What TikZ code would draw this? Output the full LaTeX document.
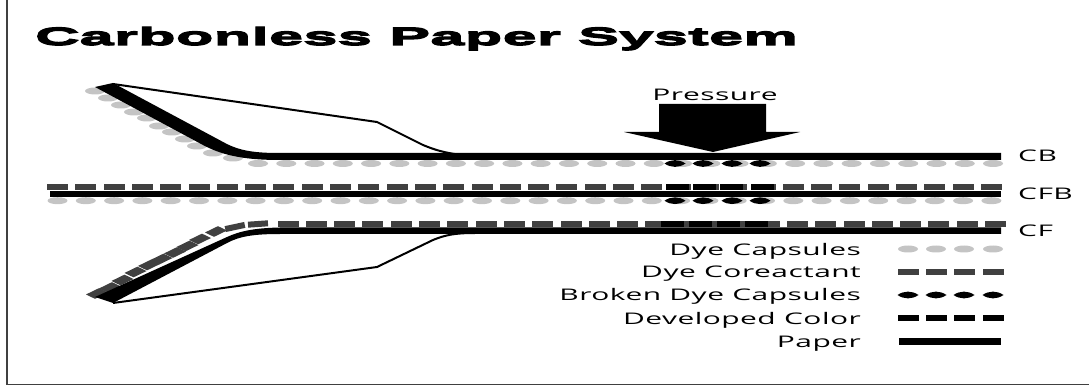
\documentclass[tikz,border=0pt]{standalone}
\usepackage{fontspec}
\usepackage{xcolor}
\usetikzlibrary{shapes.geometric, positioning}
\newfontfamily\labelfont[FakeStretch=1.87,LetterSpace=3]{Open Sans}
\newfontfamily\titlefont[FakeStretch=2.44,FakeBold=5,LetterSpace=2]{Liberation Sans Bold}
\definecolor{capgray}{HTML}{C4C4C4}
\definecolor{coregray}{HTML}{404040}

\begin{document}
\begin{tikzpicture}[
    x=1pt, y=-1pt,
    every node/.style={font=\labelfont\fontsize{16}{18}\selectfont, inner sep=0pt},
    capsule/.style={
        ellipse,
        minimum width=20pt,
        minimum height=7pt,
        fill=capgray
    },
    coreactant/.style={
        rectangle,
        minimum width=21pt,
        minimum height=6pt,
        fill=coregray
    },
    developed/.style={
        rectangle,
        minimum width=23pt,
        minimum height=6pt,
        fill=black
    },
    slanted/.style={
        rectangle,
        minimum width=20pt,
        minimum height=6pt,
        fill=coregray
    },
    slantcore/.pic={
        \fill[coregray] (-11,0.95) -- (2,-5.35) -- (11,-0.95) -- (-2,5.35) -- cycle;
    },
    broken/.pic={
        \fill[black] (-10.5,0) .. controls (-4,-4.5) and (4,-4.5) .. (10.5,0)
            .. controls (4,4.5) and (-4,4.5) .. (-10.5,0);
    },
    legendtext/.style={anchor=base east},
    sheetname/.style={anchor=base west},
    thinline/.style={line width=2pt, black}
]
\useasboundingbox (0,0) rectangle (1089,387);

\draw[line width=1.2pt, black!75] (7,0) -- (7,384.5) -- (1089,384.5);

\node (title) [anchor=base west, font=\titlefont\fontsize{25}{30}\selectfont] at (35,45) {Carbonless Paper System};

% CB sheet
\foreach \px/\py [count=\i] in {95/91,108/98,121/105,134/112,147/118,159/126,172/132,185/139,197/146,213/153,233/158}
    \node (capA\i) [capsule] at (\px,\py) {};
\foreach \i in {0,...,26}
    \node (capB\i) [capsule] at (258+28.27*\i,163.5) {};
\draw[thinline] (113,84) -- (377,122) -- (423,145) .. controls (435,150) and (445,153) .. (462,155);
\fill[black] (95,87) -- (113,83) -- (225,143) .. controls (240,151) and (255,153) .. (280,153)
    -- (1001,153) -- (1001,160) -- (280,160) .. controls (240,160) and (220,154) .. (203,145) -- cycle;
\foreach \px in {675,703,732,760}
    \pic at (\px,163.5) {broken};

% CFB sheet
\foreach \i in {0,...,33} {
    \node (coreB\i) [coreactant] at (57.5+28.3*\i,187.5) {};
    \node (capC\i) [capsule] at (57.5+28.3*\i,200.7) {};
}
\foreach \px in {677,704,731,762}
    \node (devB\px) [developed] at (\px,187.5) {};
\fill[black] (50,191) rectangle (1001,197);
\foreach \px in {675,703,732,760}
    \pic at (\px,200.7) {broken};

% CF sheet
\foreach \px/\py in {97/293.5,110/287.5,122.5/280,135.5/272,149/265,161.5/259,175/252.5,187.5/246,200/239,216/231.5}
    \pic at (\px,\py) {slantcore};
\node (coreS1) [slanted, rotate=12] at (235,227) {};
\node (coreS2) [slanted, rotate=4] at (258,224) {};
\foreach \i in {0,...,25}
    \node (coreC\i) [coreactant] at (288+28.3*\i,224) {};
\foreach \px in {672,700,728,756}
    \node (devC\px) [developed] at (\px,224) {};
\draw[thinline] (113,303) -- (377,267) -- (433,240) .. controls (445,235) and (455,233) .. (475,233);
\fill[black] (95,297) -- (113,303) -- (227,243) .. controls (240,236) and (255,234) .. (280,234)
    -- (1001,234) -- (1001,227.5) -- (280,227.5) .. controls (255,228) and (240,231) .. (227,237) -- cycle;

% pressure arrow
\fill[black] (659,104) -- (766,104) -- (766,132) -- (800,132) -- (713,152) -- (624,132) -- (659,132) -- cycle;
\node (pressure) [anchor=base] at (715,100.7) {Pressure};

\node (cb) [sheetname] at (1018,161.7) {CB};
\node (cfb) [sheetname] at (1018,199.3) {CFB};
\node (cf) [sheetname] at (1018,236.7) {CF};

% legend
\node (lcap) [legendtext] at (861,255) {Dye Capsules};
\node (lcore) [legendtext] at (861,278) {Dye Coreactant};
\node (lbroken) [legendtext] at (861,301) {Broken Dye Capsules};
\node (ldev) [legendtext] at (861,324) {Developed Color};
\node (lpaper) [legendtext] at (861,347) {Paper};

\foreach \px in {908,936,964,993} {
    \node (keycap\px) [capsule] at (\px,249) {};
    \node (keycore\px) [coreactant] at (\px,272) {};
    \pic at (\px,295) {broken};
    \node (keydev\px) [coreactant, fill=black] at (\px,318) {};
}
\fill[black] (899,338) rectangle (1001,344.5);

\end{tikzpicture}
\end{document}
